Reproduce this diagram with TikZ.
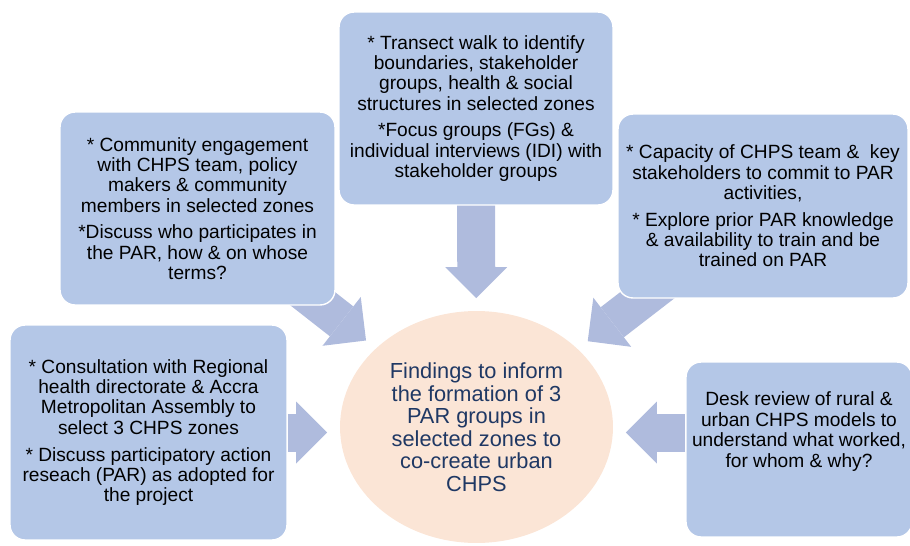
\documentclass[tikz,border=0pt]{standalone}
\usepackage{fontspec}
\setmainfont{Liberation Sans}
\usetikzlibrary{arrows.meta,shapes.geometric}
\pgfdeclarelayer{back}
\pgfsetlayers{back,main}
\definecolor{boxblue}{RGB}{180,199,231}
\definecolor{arrowblue}{RGB}{175,187,221}
\definecolor{peach}{RGB}{251,229,214}
\definecolor{navy}{RGB}{31,56,100}

\begin{document}
\begin{tikzpicture}[x=0.02cm, y=-0.02cm,
  stepbox/.style={rectangle, rounded corners=0.3cm, fill=boxblue, draw=white,
    line width=0.8pt, align=center, inner sep=0pt,
    font=\fontsize{10.9pt}{11.6pt}\selectfont},
  blockarrow/.style={arrowblue, line width=0.76cm,
    -{Triangle[width=1.24cm,length=0.62cm,line width=0pt]}, shorten >=0.25cm}]
  \useasboundingbox (0,0) rectangle (910,545);

  % boxes round the centre
  \node[stepbox, minimum width=5.5cm, minimum height=3.86cm] (engage) at (197.5,208.5)
    {* Community engagement\\ with CHPS team, policy\\ makers \& community\\
     members in selected zones\\[3.6pt] *Discuss who participates in\\
     the PAR, how \& on whose\\ terms?};
  \node[stepbox, minimum width=5.48cm, minimum height=3.86cm] (transect) at (476,108.5)
    {* Transect walk to identify\\ boundaries, stakeholder\\ groups, health \& social\\
     structures in selected zones\\[3.6pt] *Focus groups (FGs) \&\\
     individual interviews (IDI) with\\ stakeholder groups};
  \node[stepbox, minimum width=5.8cm, minimum height=3.68cm] (capacity) at (763,206)
    {* Capacity of CHPS team \&\ \ key\\ stakeholders to commit to PAR\\ activities,\\[3.6pt]
     * Explore prior PAR knowledge\\ \& availability to train and be\\ trained on PAR};
  \node[stepbox, minimum width=5.54cm, minimum height=4.3cm] (consult) at (148.5,432.5)
    {* Consultation with Regional\\ health directorate \& Accra\\ Metropolitan Assembly to\\
     select 3 CHPS zones\\[3.6pt] * Discuss participatory action\\
     reseach (PAR) as adopted for\\ the project};
  \node[stepbox, minimum width=4.52cm, minimum height=3.5cm] (desk) at (799,449.5) {};
  \node[align=center, inner sep=0pt, font=\fontsize{10.9pt}{11.6pt}\selectfont]
    (desktext) at ([yshift=0.36cm]desk.center)
    {Desk review of rural \&\\ urban CHPS models to\\ understand what worked,\\ for whom \& why?};

  % centre
  \node[ellipse, fill=peach, minimum width=5.46cm, minimum height=4.64cm, inner sep=0pt,
    text=navy, align=center, font=\fontsize{12.4pt}{12.8pt}\selectfont] (finding) at (476.5,427)
    {Findings to inform\\ the formation of 3\\ PAR groups in\\ selected zones to\\
     co-create urban\\ CHPS};

  \begin{pgfonlayer}{back}
    \draw[blockarrow] (transect.center) -- (finding);
    \draw[blockarrow] (engage.center) -- (finding);
    \draw[blockarrow] (capacity.center) -- (finding);
    \draw[blockarrow] (consult.east) -- (consult.east -| finding.west);
    \draw[blockarrow] (desk.west |- consult.east) -- (consult.east -| finding.east);
  \end{pgfonlayer}
\end{tikzpicture}
\end{document}
